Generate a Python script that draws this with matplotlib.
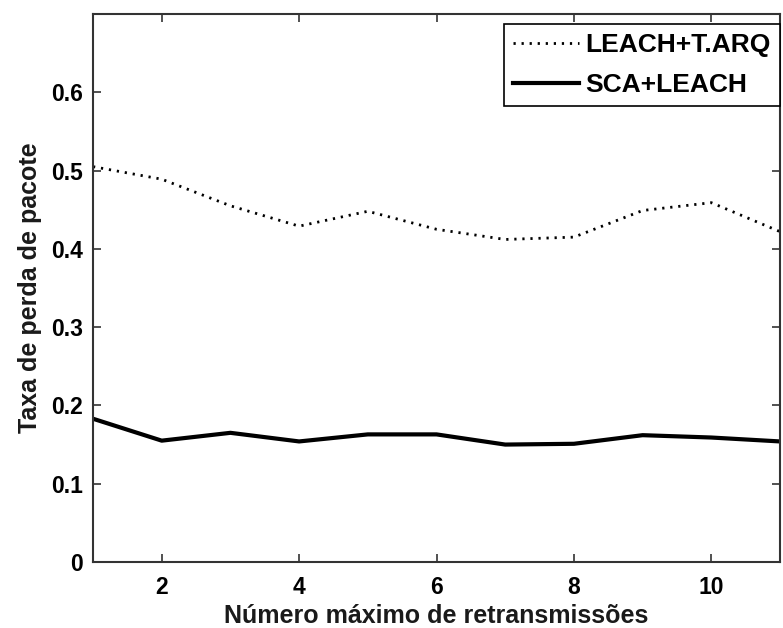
import matplotlib
matplotlib.use('Agg')
import matplotlib.pyplot as plt

# taxa de perda por numero maximo de retransmissoes
retrans = [1, 2, 3, 4, 5, 6, 7, 8, 9, 10, 11]
leach_tarq = [0.505, 0.489, 0.455, 0.429, 0.448, 0.425, 0.412, 0.415, 0.449, 0.459, 0.422]
sca_leach = [0.183, 0.155, 0.165, 0.154, 0.163, 0.163, 0.150, 0.151, 0.162, 0.159, 0.154]

xticks = [2, 4, 6, 8, 10]
yticks = [0, 0.1, 0.2, 0.3, 0.4, 0.5, 0.6]
ytick_labels = ['0', '0.1', '0.2', '0.3', '0.4', '0.5', '0.6']

fig = plt.figure(figsize=(7.83, 6.28), dpi=100)
ax = fig.add_axes([0.1188, 0.1051, 0.8774, 0.8726])

ax.plot(retrans, leach_tarq, color='black', lw=2.0, linestyle=(0, (0.8, 2.1)), label='LEACH+T.ARQ')
ax.plot(retrans, sca_leach, color='black', lw=3.0, label='SCA+LEACH')

ax.set_xlim(1, 11)
ax.set_ylim(0, 0.7)
ax.set_xticks(xticks)
ax.set_yticks(yticks)
ax.set_yticklabels(ytick_labels)

for s in ax.spines.values():
    s.set_color('#333333')
    s.set_linewidth(1.5)
ax.tick_params(direction='in', length=6, width=1.2, top=True, right=True,
               labelsize=16.5, color='#333333')
ax.tick_params(axis='y', pad=7)
ax.tick_params(axis='x', pad=10)
for lab in ax.get_xticklabels() + ax.get_yticklabels():
    lab.set_fontfamily('Liberation Sans')
    lab.set_fontweight('bold')

ax.set_xlabel('Número máximo de retransmissões', fontsize=18, fontweight='bold',
              family='Liberation Sans', color='#1a1a1a', labelpad=4)
ax.set_ylabel('Taxa de perda de pacote', fontsize=18, fontweight='bold',
              family='Liberation Sans', color='#1a1a1a', labelpad=7)

leg = ax.legend(loc='upper right', bbox_to_anchor=(1.0, 0.982), borderaxespad=0,
                fancybox=False, framealpha=1, edgecolor='black',
                prop={'family': 'Liberation Sans', 'weight': 'bold', 'size': 19},
                handlelength=2.5, handletextpad=0.25, borderpad=0.35, labelspacing=0.6)
leg.get_frame().set_linewidth(1.2)

fig.savefig('out.png', dpi=100)
